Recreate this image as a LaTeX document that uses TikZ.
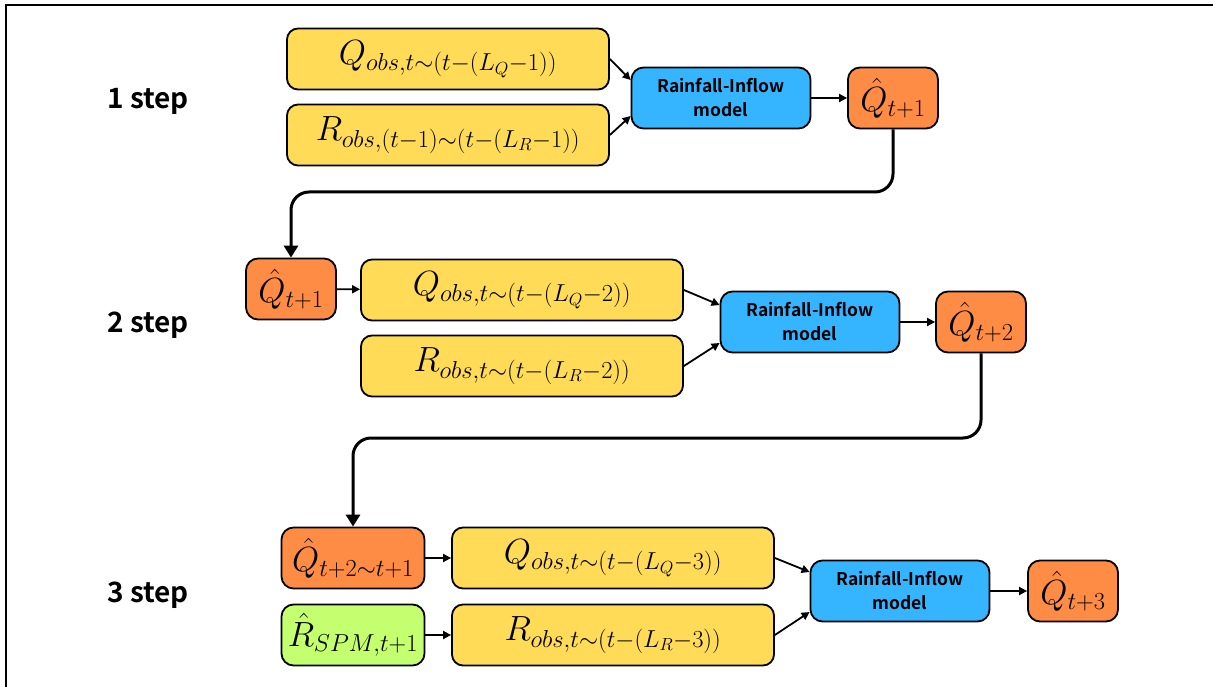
\RequirePackage{fix-cm}
\documentclass[tikz,border=0pt]{standalone}
\usepackage{fontspec}
\usetikzlibrary{arrows.meta}
\newfontfamily\labfont{Noto Sans CJK KR}[BoldFont=* Bold]
\definecolor{obsfill}{HTML}{FFDB58}
\definecolor{modelfill}{HTML}{35B4FF}
\definecolor{predfill}{HTML}{FF8C45}
\definecolor{spmfill}{HTML}{C4FF70}
\tikzset{
  box/.style={draw=black, line width=1.8pt, inner sep=0pt, align=center},
  obs/.style={box, fill=obsfill, rounded corners=11pt, minimum width=322pt, minimum height=61pt,
    font=\fontsize{35}{40}\selectfont},
  model/.style={box, fill=modelfill, rounded corners=12pt, minimum width=179pt, minimum height=61pt,
    font=\labfont\bfseries\fontsize{17.5}{24}\selectfont},
  pred/.style={box, fill=predfill, rounded corners=12pt, minimum width=90pt, minimum height=61pt,
    font=\fontsize{35}{40}\selectfont},
  spm/.style={box, fill=spmfill, rounded corners=12pt, minimum width=143pt, minimum height=61pt,
    font=\fontsize{35}{40}\selectfont},
  steplabel/.style={font=\labfont\bfseries\fontsize{28}{32}\selectfont},
  feed/.style={line width=1.8pt, -{Triangle[length=8pt,width=8pt]}},
  carry/.style={line width=3pt, rounded corners=18pt, -{Triangle[length=12pt,width=14pt]}},
}
\begin{document}
\begin{tikzpicture}[x=1pt, y=-1pt]
\useasboundingbox (0,0) rectangle (1213,687);
% outer frame
\draw[line width=2pt] (6,687) -- (6,5) -- (1213,5);

% step labels
\node[steplabel] (s1) at (148,101) {1 step};
\node[steplabel] (s2) at (148,325) {2 step};
\node[steplabel] (s3) at (148,595) {3 step};

% step 1
\node[obs] (q1) at (448,59) {$Q_{obs,t\sim(t-(L_Q-1))}$};
\node[obs] (r1) at (448,135) {$R_{obs,(t-1)\sim(t-(L_R-1))}$};
\node[model] (m1) at (721,98) {Rainfall-Inflow\\model};
\node[pred] (o1) at (893,98) {$\hat{Q}_{t+1}$};
\draw[feed] (q1.east) -- ([yshift=18pt]m1.west);
\draw[feed] (r1.east) -- ([yshift=-18pt]m1.west);
\draw[feed] (m1) -- (o1);

% step 2
\node[pred] (p2) at (291,289) {$\hat{Q}_{t+1}$};
\node[obs] (q2) at (522,290) {$Q_{obs,t\sim(t-(L_Q-2))}$};
\node[obs] (r2) at (522,366) {$R_{obs,t\sim(t-(L_R-2))}$};
\node[model] (m2) at (810,322) {Rainfall-Inflow\\model};
\node[pred] (o2) at (981,322) {$\hat{Q}_{t+2}$};
\draw[feed] (p2) -- (q2);
\draw[feed] (q2.east) -- ([yshift=17pt]m2.west);
\draw[feed] (r2.east) -- ([yshift=-21pt]m2.west);
\draw[feed] (m2) -- (o2);

% step 3
\node[pred, minimum width=143pt] (p3) at (353,558) {$\hat{Q}_{t+2\sim t+1}$};
\node[spm] (g3) at (353,635) {$\hat{R}_{SPM,t+1}$};
\node[obs] (q3) at (613,558) {$Q_{obs,t\sim(t-(L_Q-3))}$};
\node[obs] (r3) at (613,635) {$R_{obs,t\sim(t-(L_R-3))}$};
\node[model] (m3) at (900,591) {Rainfall-Inflow\\model};
\node[pred] (o3) at (1073,591) {$\hat{Q}_{t+3}$};
\draw[feed] (p3) -- (q3);
\draw[feed] (g3) -- (r3);
\draw[feed] (q3.east) -- ([yshift=19pt]m3.west);
\draw[feed] (r3.east) -- ([yshift=-21pt]m3.west);
\draw[feed] (m3) -- (o3);

% carry-over of each prediction into the next step
\coordinate (k1) at (600,192);
\coordinate (k2) at (660,438);
\draw[carry] (o1.south) |- (k1) -| (p2.north);
\draw[carry] (o2.south) |- (k2) -| (p3.north);
\end{tikzpicture}
\end{document}
